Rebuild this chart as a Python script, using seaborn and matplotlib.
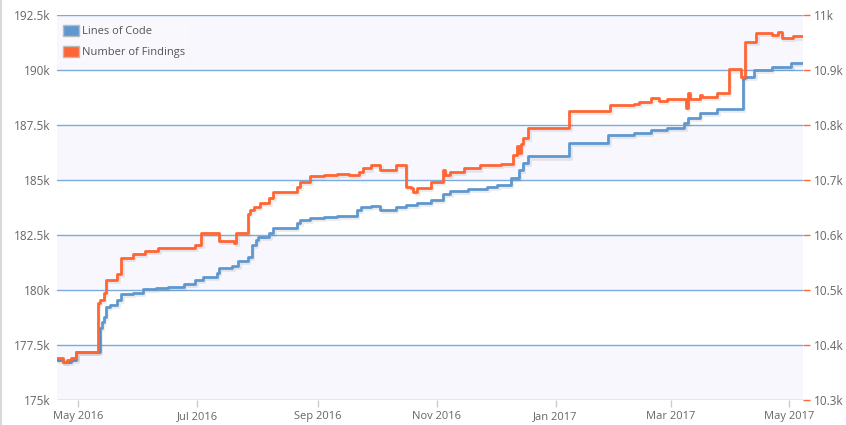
import pandas as pd
import matplotlib
matplotlib.use("Agg")
import matplotlib.pyplot as plt
import matplotlib.dates as mdates
import matplotlib.patheffects as pe
from matplotlib.patches import Patch
from matplotlib.lines import Line2D
from matplotlib.ticker import FuncFormatter
import seaborn as sns

# Lines of Code (left axis)
loc_dates = [
    "2016-04-20", "2016-04-23", "2016-04-27", "2016-04-30", "2016-05-12", "2016-05-13",
    "2016-05-14", "2016-05-15", "2016-05-17", "2016-05-21", "2016-05-23", "2016-05-29",
    "2016-06-03", "2016-06-10", "2016-06-16", "2016-06-24", "2016-06-30", "2016-07-04",
    "2016-07-11", "2016-07-12", "2016-07-19", "2016-07-22", "2016-07-27", "2016-07-29",
    "2016-07-31", "2016-08-01", "2016-08-07", "2016-08-09", "2016-08-21", "2016-08-23",
    "2016-08-28", "2016-09-04", "2016-09-11", "2016-09-21", "2016-09-23", "2016-09-28",
    "2016-10-03", "2016-10-11", "2016-10-16", "2016-10-22", "2016-10-29", "2016-11-04",
    "2016-11-08", "2016-11-17", "2016-11-27", "2016-12-02", "2016-12-09", "2016-12-13",
    "2016-12-15", "2016-12-18", "2017-01-08", "2017-01-28", "2017-02-10", "2017-02-19",
    "2017-02-27", "2017-03-08", "2017-03-10", "2017-03-16", "2017-03-25", "2017-04-07",
    "2017-04-08", "2017-04-13", "2017-04-22", "2017-05-02", "2017-05-08",
]
loc_values = [
    176820, 176710, 176820, 177170, 178260, 178550,
    178770, 179240, 179320, 179550, 179800, 179880,
    180030, 180080, 180150, 180270, 180450, 180600,
    180760, 180990, 181090, 181320, 181510, 182050,
    182270, 182420, 182580, 182800, 183030, 183180,
    183260, 183300, 183360, 183640, 183760, 183820,
    183640, 183760, 183860, 183970, 184090, 184360,
    184510, 184580, 184690, 184770, 185080, 185450,
    185760, 186070, 186690, 187050, 187150, 187270,
    187350, 187580, 187800, 188060, 188210, 189620,
    189690, 190000, 190150, 190300, 190300,
]

# Number of Findings (right axis)
find_dates = [
    "2016-04-20", "2016-04-23", "2016-04-25", "2016-04-27", "2016-04-30", "2016-05-11",
    "2016-05-12", "2016-05-14", "2016-05-15", "2016-05-21", "2016-05-23", "2016-05-29",
    "2016-06-04", "2016-06-11", "2016-06-24", "2016-06-30", "2016-07-03", "2016-07-12",
    "2016-07-20", "2016-07-21", "2016-07-27", "2016-07-28", "2016-07-30", "2016-08-02",
    "2016-08-07", "2016-08-09", "2016-08-21", "2016-08-23", "2016-08-28", "2016-09-04",
    "2016-09-11", "2016-09-17", "2016-09-22", "2016-09-24", "2016-09-28", "2016-10-03",
    "2016-10-11", "2016-10-16", "2016-10-19", "2016-10-20", "2016-10-22", "2016-10-29",
    "2016-11-04", "2016-11-05", "2016-11-08", "2016-11-15", "2016-11-23", "2016-12-04",
    "2016-12-10", "2016-12-12", "2016-12-13", "2016-12-14", "2016-12-15", "2016-12-18",
    "2017-01-08", "2017-01-29", "2017-02-10", "2017-02-13", "2017-02-19", "2017-02-23",
    "2017-02-27", "2017-03-09", "2017-03-10", "2017-03-11", "2017-03-16", "2017-03-17",
    "2017-03-25", "2017-03-31", "2017-04-06", "2017-04-08", "2017-04-14", "2017-04-22",
    "2017-04-25", "2017-04-27", "2017-05-03", "2017-05-08",
]
find_values = [
    10376, 10370, 10373, 10376, 10387, 10476,
    10482, 10495, 10519, 10529, 10558, 10565,
    10571, 10577, 10576, 10582, 10603, 10590,
    10585, 10603, 10639, 10645, 10651, 10659,
    10667, 10679, 10688, 10697, 10707, 10709,
    10711, 10709, 10715, 10721, 10727, 10719,
    10727, 10688, 10685, 10679, 10685, 10696,
    10718, 10709, 10715, 10721, 10727, 10730,
    10745, 10761, 10750, 10765, 10776, 10794,
    10825, 10836, 10839, 10842, 10849, 10844,
    10847, 10831, 10858, 10847, 10855, 10851,
    10859, 10901, 10888, 10951, 10967, 10964,
    10970, 10959, 10961, 10961,
]

left_ticks = [175000, 177500, 180000, 182500, 185000, 187500, 190000, 192500]
right_ticks = [10300, 10400, 10500, 10600, 10700, 10800, 10900, 11000]

blue = "#5f98cf"
orange = "#ff6633"
grid_col = "#7aabdc"
band_col = "#f7f7fd"
text_col = "#666666"

loc_df = pd.DataFrame({"date": pd.to_datetime(loc_dates), "value": loc_values})
find_df = pd.DataFrame({"date": pd.to_datetime(find_dates), "value": find_values})

sns.set_style("white")
plt.rcParams['font.family'] = ['Open Sans', 'DejaVu Sans']

fig = plt.figure(figsize=(8.46, 4.25), dpi=100)
ax = fig.add_axes([57 / 846, 25 / 425, 746 / 846, 385 / 425])

# alternating bands
for i in range(len(left_ticks) - 1):
    if i % 2 == 0:
        ax.axhspan(left_ticks[i], left_ticks[i + 1], color=band_col, zorder=0, lw=0)

shadow = [pe.SimpleLineShadow(offset=(1, -1.5), shadow_color="k", alpha=0.08), pe.Normal()]

sns.lineplot(data=loc_df, x="date", y="value", ax=ax, color=blue, lw=2,
             drawstyle="steps-post", estimator=None, path_effects=shadow)
ax.set_ylim(left_ticks[0], left_ticks[-1])
ax.set_yticks(left_ticks)
ax.yaxis.set_major_formatter(FuncFormatter(lambda v, p: f"{v / 1000:g}k"))
ax.grid(axis="y", color=grid_col, lw=1)
ax.grid(axis="x", visible=False)
ax.set_xlabel("")
ax.set_ylabel("")

ax2 = ax.twinx()
sns.lineplot(data=find_df, x="date", y="value", ax=ax2, color=orange, lw=2,
             drawstyle="steps-post", estimator=None, path_effects=shadow)
ax2.set_ylim(right_ticks[0], right_ticks[-1])
ax2.set_yticks(right_ticks)
ax2.yaxis.set_major_formatter(FuncFormatter(lambda v, p: f"{v / 1000:g}k"))
ax2.set_ylabel("")
ax2.grid(False)

ax.set_xlim(loc_df["date"].iloc[0], loc_df["date"].iloc[-1])
ax.xaxis.set_major_locator(mdates.MonthLocator(bymonth=[1, 3, 5, 7, 9, 11]))
ax.xaxis.set_major_formatter(mdates.DateFormatter("%b %Y"))

for a in (ax, ax2):
    for s in a.spines.values():
        s.set_visible(False)

ax.tick_params(axis="y", length=0, pad=5, labelsize=8.5, labelcolor=text_col)
ax.tick_params(axis="x", length=5, color="#cccccc", width=1, pad=3,
               labelsize=8, labelcolor=text_col, bottom=True)
ax2.tick_params(axis="y", length=5, color=orange, width=1, pad=3,
                labelsize=8.5, labelcolor=text_col, right=True)

handles = [Patch(facecolor=blue, edgecolor="#bbbbbb", label="Lines of Code"),
           Patch(facecolor=orange, edgecolor="#bbbbbb", label="Number of Findings")]
leg = ax2.legend(handles=handles, loc="upper left", bbox_to_anchor=(0.0, 0.99),
                 frameon=True, fontsize=8, handlelength=1.4, handleheight=1.2,
                 handletextpad=0.3, labelspacing=0.75, borderpad=0.35,
                 borderaxespad=0.2, fancybox=False)
leg.get_frame().set_facecolor("#fafafe")
leg.get_frame().set_edgecolor("none")
for t in leg.get_texts():
    t.set_color("#555555")

fig.add_artist(Line2D([0.0015, 0.0015], [0, 1], transform=fig.transFigure,
                      color="#d9d9d9", lw=1.5))

fig.savefig("out.png", dpi=100, facecolor="white")
